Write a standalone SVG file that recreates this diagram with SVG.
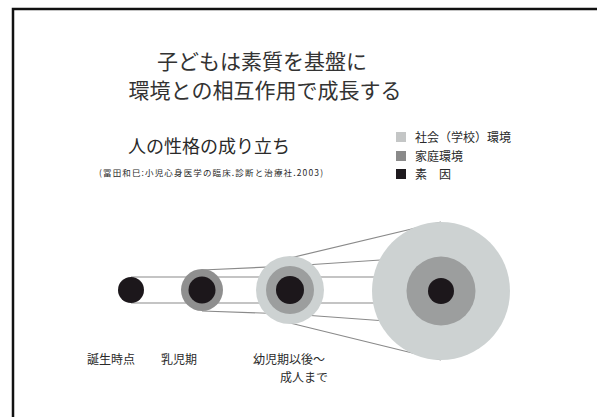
<svg xmlns="http://www.w3.org/2000/svg" width="597" height="417" viewBox="0 0 597 417">
<style>
text{font-family:"Noto Sans CJK JP","Noto Sans CJK SC",sans-serif;fill:#2a2a2a}
.title{font-size:21px;text-anchor:middle;fill:#333}
.sub{font-size:18px}
.cite{font-size:8.5px}
.leg{font-size:12px}
.lab{font-size:12px}
.conn line{stroke:#8a8a8a;stroke-width:1.2}
.light{fill:#cdd2d2}
.mid{fill:#9c9e9e}
.dark{fill:#1c171b}
</style>
<rect x="0" y="0" width="597" height="417" fill="#ffffff"/>
<path d="M13 417 V9 H597" fill="none" stroke="#111" stroke-width="2.5"/>
<g id="title">
<text class="title" x="262" y="69">子どもは素質を基盤に</text>
<text class="title" x="265" y="98">環境との相互作用で成長する</text>
</g>
<g id="subtitle">
<text class="sub" x="128" y="153">人の性格の成り立ち</text>
<text class="cite" x="99" y="176" textLength="224">(冨田和巳:小児心身医学の臨床.診断と治療社.2003)</text>
</g>
<g id="legend">
<rect x="396" y="132" width="10" height="10" fill="#c4c6c6"/>
<text class="leg" x="415" y="142">社会（学校）環境</text>
<rect x="396" y="151" width="10" height="10" fill="#8a8a8a"/>
<text class="leg" x="415" y="161">家庭環境</text>
<rect x="396" y="169" width="10" height="10" fill="#1e1a1e"/>
<text class="leg" x="415" y="179">素　因</text>
</g>
<g class="conn" id="connectors">
<line x1="131" y1="277" x2="202" y2="277"/>
<line x1="131" y1="303" x2="202" y2="303"/>
<line x1="202" y1="270" x2="290" y2="266"/>
<line x1="202" y1="277" x2="290" y2="277"/>
<line x1="202" y1="303" x2="290" y2="303"/>
<line x1="202" y1="311" x2="290" y2="314"/>
<line x1="290" y1="258" x2="441" y2="222"/>
<line x1="290" y1="266" x2="441" y2="256"/>
<line x1="290" y1="277" x2="441" y2="277"/>
<line x1="290" y1="303" x2="441" y2="303"/>
<line x1="290" y1="314" x2="441" y2="325"/>
<line x1="290" y1="323" x2="441" y2="360"/>
</g>
<g id="birth">
<circle class="dark" cx="131" cy="290" r="13"/>
<text class="lab" x="87" y="364">誕生時点</text>
</g>
<g id="infant">
<circle cx="202" cy="290" r="21" fill="#8f8f8f"/>
<circle class="dark" cx="202" cy="290" r="13.5"/>
<text class="lab" x="161" y="364">乳児期</text>
</g>
<g id="child">
<circle class="light" cx="290" cy="290" r="34"/>
<circle class="mid" cx="290" cy="290" r="24"/>
<circle class="dark" cx="290" cy="290" r="14"/>
<text class="lab" x="253" y="364">幼児期以後～</text>
<text class="lab" x="280" y="382">成人まで</text>
</g>
<g id="adult">
<circle class="light" cx="441" cy="291" r="69"/>
<circle class="mid" cx="441" cy="291" r="34.5"/>
<circle class="dark" cx="441" cy="291" r="13"/>
</g>
</svg>
